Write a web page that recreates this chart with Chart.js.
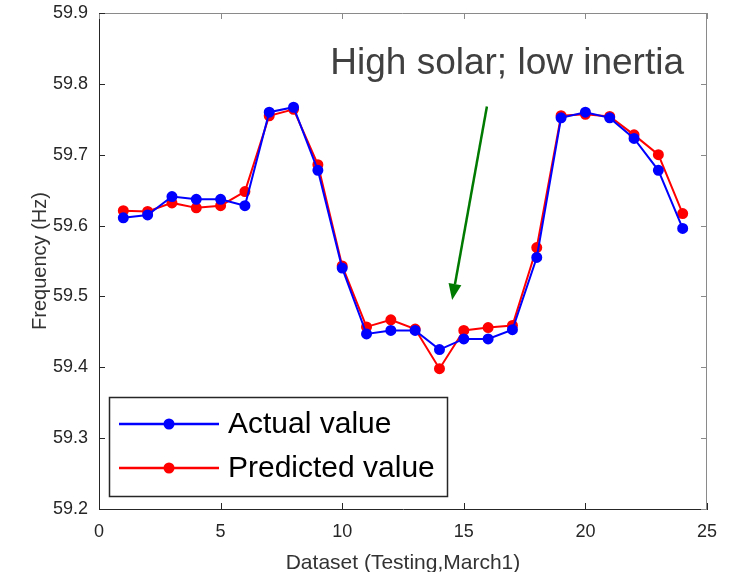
<!DOCTYPE html>
<html>
<head>
<meta charset="utf-8">
<script src="https://cdn.jsdelivr.net/npm/chart.js@4/dist/chart.umd.min.js"></script>
<style>
  html, body { margin: 0; padding: 0; background: #fff; }
  #wrap { width: 739px; height: 572px; }
</style>
</head>
<body>
<div id="wrap"><canvas id="freqChart" width="739" height="572"></canvas></div>
<script>
// dataset index (testing, March 1)
const datasetIdx = [1,2,3,4,5,6,7,8,9,10,11,12,13,14,15,16,17,18,19,20,21,22,23,24];

// frequency values in Hz
const actualHz = [59.611,59.615,59.641,59.637,59.637,59.628,59.760,59.767,59.678,59.540,59.447,59.452,
                  59.452,59.425,59.440,59.440,59.453,59.555,59.752,59.760,59.752,59.723,59.678,59.596];
const predictedHz = [59.621,59.620,59.632,59.625,59.628,59.648,59.755,59.764,59.686,59.543,59.457,59.467,
                     59.454,59.398,59.452,59.456,59.459,59.569,59.755,59.757,59.754,59.728,59.700,59.617];

const seriesNames = ['Actual value', 'Predicted value'];
const seriesColors = ['#0000ff', '#ff0000'];

const noteText = 'High solar; low inertia';
const arrowFrom = {x: 15.95, y: 59.768};
const arrowTo = {x: 14.52, y: 59.495};

function toPts(vals) {
    return vals.map((v, i) => ({x: datasetIdx[i], y: v}));
}

// box, inward ticks, annotation and legend (matlab look)
const matlabBits = {
    id: 'matlabBits',
    afterDraw(chart) {
        const ctx = chart.ctx;
        const a = chart.chartArea;
        const xs = chart.scales.x, ys = chart.scales.y;
        ctx.save();

        // top/right frame
        ctx.strokeStyle = '#8a8a8a';
        ctx.lineWidth = 1;
        ctx.beginPath();
        ctx.moveTo(a.left, a.top + 0.5);
        ctx.lineTo(a.right - 0.5, a.top + 0.5);
        ctx.lineTo(a.right - 0.5, a.bottom);
        ctx.stroke();

        // inward ticks
        const tl = 6;
        xs.ticks.forEach(t => {
            const px = Math.round(xs.getPixelForValue(t.value)) + 0.5;
            ctx.strokeStyle = '#262626';
            ctx.beginPath();
            ctx.moveTo(px, a.bottom); ctx.lineTo(px, a.bottom - tl);
            ctx.stroke();
            ctx.strokeStyle = '#8a8a8a';
            ctx.beginPath();
            ctx.moveTo(px, a.top); ctx.lineTo(px, a.top + tl);
            ctx.stroke();
        });
        ys.ticks.forEach(t => {
            const py = Math.round(ys.getPixelForValue(t.value)) + 0.5;
            ctx.strokeStyle = '#262626';
            ctx.beginPath();
            ctx.moveTo(a.left, py); ctx.lineTo(a.left + tl, py);
            ctx.stroke();
            ctx.strokeStyle = '#8a8a8a';
            ctx.beginPath();
            ctx.moveTo(a.right, py); ctx.lineTo(a.right - tl, py);
            ctx.stroke();
        });

        // annotation text
        ctx.fillStyle = '#404040';
        ctx.font = '37px "Liberation Sans", Arial, sans-serif';
        ctx.textAlign = 'right';
        ctx.textBaseline = 'middle';
        ctx.fillText(noteText, a.right - 23, 64);

        // arrow
        const x1 = xs.getPixelForValue(arrowFrom.x), y1 = ys.getPixelForValue(arrowFrom.y);
        const x2 = xs.getPixelForValue(arrowTo.x), y2 = ys.getPixelForValue(arrowTo.y);
        const ang = Math.atan2(y2 - y1, x2 - x1);
        const hl = 16, hw = 6.5;
        const bx = x2 - hl * Math.cos(ang), by = y2 - hl * Math.sin(ang);
        ctx.strokeStyle = '#007a00';
        ctx.fillStyle = '#007a00';
        ctx.lineWidth = 2.5;
        ctx.beginPath();
        ctx.moveTo(x1, y1); ctx.lineTo(bx, by);
        ctx.stroke();
        ctx.beginPath();
        ctx.moveTo(x2, y2);
        ctx.lineTo(bx + hw * Math.sin(ang), by - hw * Math.cos(ang));
        ctx.lineTo(bx - hw * Math.sin(ang), by + hw * Math.cos(ang));
        ctx.closePath();
        ctx.fill();

        // legend box
        const lx = a.left + 10, ly = a.bottom - 112, lw = 338, lh = 99;
        ctx.fillStyle = '#ffffff';
        ctx.fillRect(lx, ly, lw, lh);
        ctx.strokeStyle = '#262626';
        ctx.lineWidth = 1.5;
        ctx.strokeRect(lx + 0.5, ly + 0.5, lw, lh);
        ctx.font = '30px "Liberation Sans", Arial, sans-serif';
        ctx.textAlign = 'left';
        ctx.textBaseline = 'middle';
        seriesNames.forEach((name, i) => {
            const ry = ly + 27 + i * 44;
            ctx.strokeStyle = seriesColors[i];
            ctx.fillStyle = seriesColors[i];
            ctx.lineWidth = 2.5;
            ctx.beginPath();
            ctx.moveTo(lx + 10, ry); ctx.lineTo(lx + 110, ry);
            ctx.stroke();
            ctx.beginPath();
            ctx.arc(lx + 60, ry, 5.5, 0, Math.PI * 2);
            ctx.fill();
            ctx.fillStyle = '#000000';
            ctx.fillText(name, lx + 119, ry + 1);
        });
        ctx.restore();
    }
};

const tickFont = {family: '"Liberation Sans", Arial, sans-serif', size: 18};

new Chart(document.getElementById('freqChart').getContext('2d'), {
    type: 'line',
    data: {
        datasets: [{
            label: seriesNames[0],
            data: toPts(actualHz),
            borderColor: seriesColors[0],
            backgroundColor: seriesColors[0],
            borderWidth: 2,
            pointRadius: 4.5,
            pointHoverRadius: 4.5,
            tension: 0,
            fill: false
        }, {
            label: seriesNames[1],
            data: toPts(predictedHz),
            borderColor: seriesColors[1],
            backgroundColor: seriesColors[1],
            borderWidth: 2,
            pointRadius: 4.5,
            pointHoverRadius: 4.5,
            tension: 0,
            fill: false
        }]
    },
    options: {
        responsive: false,
        animation: false,
        layout: {padding: {top: 13, right: 32, left: 24, bottom: 0}},
        plugins: {legend: {display: false}, tooltip: {enabled: false}},
        scales: {
            x: {
                type: 'linear',
                min: 0, max: 25,
                ticks: {stepSize: 5, color: '#262626', font: tickFont, padding: 12, maxRotation: 0},
                grid: {display: false, drawTicks: false},
                border: {display: true, color: '#262626', width: 1},
                title: {display: true, text: 'Dataset (Testing,March1)', color: '#333333',
                        font: {family: '"Liberation Sans", Arial, sans-serif', size: 21}, padding: {top: 10, bottom: -4}},
                afterFit(s) { s.height = 63; s.paddingLeft = 0; s.paddingRight = 0; }
            },
            y: {
                min: 59.2, max: 59.9,
                ticks: {stepSize: 0.1, color: '#262626', font: tickFont, padding: 11,
                        callback: v => v.toFixed(1)},
                grid: {display: false, drawTicks: false},
                border: {display: true, color: '#262626', width: 1},
                title: {display: true, text: 'Frequency (Hz)', color: '#333333',
                        font: {family: '"Liberation Sans", Arial, sans-serif', size: 20}, padding: {bottom: 8}},
                afterFit(s) { s.width = 75; s.paddingTop = 0; s.paddingBottom = 0; }
            }
        }
    },
    plugins: [matlabBits]
});
</script>
</body>
</html>
